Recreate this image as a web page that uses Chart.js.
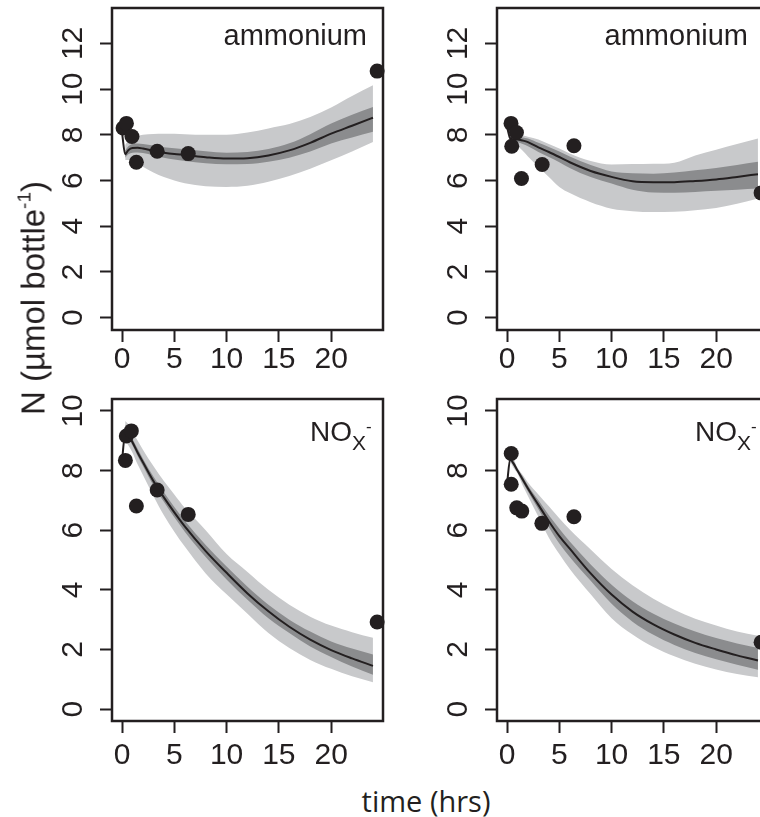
<!DOCTYPE html>
<html>
<head>
<meta charset="utf-8">
<script src="https://cdn.jsdelivr.net/npm/chart.js@4.4.0/dist/chart.umd.min.js"></script>
<style>
  html, body { margin: 0; padding: 0; background: #fff; overflow: hidden; width: 760px; height: 817px; }
  canvas { position: absolute; }
  .ytitle {
    position: absolute; left: 33px; top: 298px; white-space: nowrap;
    transform: translate(-50%, -50%) rotate(-90deg);
    font: 33px "Liberation Sans", Arial, sans-serif; color: #231f20; line-height: 1;
  }
  .ytitle sup { font-size: 19px; vertical-align: 14px; line-height: 0; }
  .xtitle {
    position: absolute; left: 426px; top: 800px; white-space: nowrap;
    transform: translate(-50%, -50%);
    font: 29px "Open Sans", sans-serif; color: #231f20; line-height: 1;
  }
</style>
</head>
<body>
<canvas id="nh4A" width="360" height="380" style="left:40px;top:0px"></canvas>
<canvas id="nh4B" width="360" height="380" style="left:425px;top:0px"></canvas>
<canvas id="noxA" width="360" height="380" style="left:40px;top:391px"></canvas>
<canvas id="noxB" width="360" height="380" style="left:425px;top:391px"></canvas>
<div class="ytitle">N (µmol bottle<sup>-1</sup>)</div>
<div class="xtitle">time (hrs)</div>
<script>
// axis ticks
const xTicks = [0, 5, 10, 15, 20]
const nh4Ticks = [0, 2, 4, 6, 8, 10, 12]
const noxTicks = [0, 2, 4, 6, 8, 10]

// model output times (hrs)
const bandTime = [0, 0.3, 0.6, 1, 1.5, 2, 3, 4, 5, 6, 8, 10, 12, 14, 16, 18, 20, 22, 24]

// ammonium, left bottle
const nh4AObsTime = [0.1, 0.42, 0.95, 1.37, 3.36, 6.33, 24.4]
const nh4AObs = [8.3, 8.5, 7.93, 6.8, 7.28, 7.18, 10.79]
const nh4AMean = [8.1, 7.15, 7.33, 7.42, 7.43, 7.4, 7.3, 7.22, 7.16, 7.12, 7.02, 6.96, 6.98, 7.1, 7.32, 7.65, 8.05, 8.4, 8.75]
const nh4AInnerLo = [null, 7.0, 7.15, 7.22, 7.23, 7.2, 7.1, 7.0, 6.92, 6.86, 6.76, 6.71, 6.72, 6.82, 7.0, 7.27, 7.62, 7.88, 8.13]
const nh4AInnerHi = [null, 7.3, 7.5, 7.6, 7.62, 7.6, 7.53, 7.46, 7.41, 7.37, 7.28, 7.22, 7.25, 7.38, 7.63, 8.03, 8.5, 8.88, 9.22]
const nh4AOuterLo = [null, 6.9, 6.9, 6.85, 6.75, 6.6, 6.35, 6.15, 6.0, 5.88, 5.75, 5.72, 5.77, 5.95, 6.2, 6.52, 6.89, 7.27, 7.69]
const nh4AOuterHi = [null, 7.55, 7.75, 7.88, 7.95, 8.0, 8.04, 8.05, 8.05, 8.03, 8.0, 8.0, 8.1, 8.28, 8.47, 8.78, 9.2, 9.7, 10.17]

// ammonium, right bottle
const nh4BObsTime = [0.38, 0.9, 0.45, 1.38, 3.36, 6.4, 24.3]
const nh4BObs = [8.5, 8.1, 7.5, 6.09, 6.7, 7.52, 5.46]
const nh4BMean = [8.35, 7.85, 7.8, 7.8, 7.75, 7.68, 7.45, 7.25, 7.03, 6.8, 6.42, 6.16, 5.97, 5.93, 5.93, 5.98, 6.05, 6.16, 6.28]
const nh4BInnerLo = [null, 7.75, 7.7, 7.68, 7.6, 7.5, 7.25, 7.03, 6.8, 6.55, 6.15, 5.87, 5.6, 5.48, 5.47, 5.5, 5.55, 5.6, 5.65]
const nh4BInnerHi = [null, 7.95, 7.9, 7.92, 7.88, 7.84, 7.65, 7.47, 7.27, 7.05, 6.68, 6.4, 6.32, 6.3, 6.35, 6.45, 6.55, 6.68, 6.82]
const nh4BOuterLo = [null, 7.7, 7.6, 7.5, 7.3, 7.05, 6.6, 6.15, 5.72, 5.45, 5.05, 4.77, 4.66, 4.62, 4.63, 4.7, 4.8, 4.98, 5.21]
const nh4BOuterHi = [null, 8.0, 8.0, 8.0, 7.97, 7.92, 7.8, 7.6, 7.4, 7.18, 6.85, 6.7, 6.72, 6.73, 6.78, 7.1, 7.35, 7.6, 7.84]

// NOx, left bottle
const noxAObsTime = [0.32, 0.41, 0.89, 1.37, 3.36, 6.33, 24.4]
const noxAObs = [8.34, 9.16, 9.33, 6.81, 7.35, 6.53, 2.92]
const noxAMean = [8.35, 9.22, 9.2, 8.95, 8.6, 8.28, 7.65, 7.1, 6.6, 6.13, 5.3, 4.57, 3.88, 3.28, 2.76, 2.33, 1.98, 1.7, 1.45]
const noxAInnerLo = [null, 9.12, 9.08, 8.84, 8.48, 8.15, 7.5, 6.95, 6.43, 5.95, 5.1, 4.35, 3.67, 3.05, 2.55, 2.1, 1.75, 1.43, 1.15]
const noxAInnerHi = [null, 9.32, 9.3, 9.06, 8.72, 8.4, 7.8, 7.27, 6.78, 6.32, 5.5, 4.78, 4.1, 3.5, 3.0, 2.6, 2.27, 2.03, 1.83]
const noxAOuterLo = [null, 9.0, 8.85, 8.6, 8.2, 7.85, 7.15, 6.5, 5.95, 5.45, 4.55, 3.85, 3.2, 2.55, 2.05, 1.65, 1.35, 1.1, 0.9]
const noxAOuterHi = [null, 9.66, 9.55, 9.3, 9.0, 8.7, 8.15, 7.65, 7.2, 6.75, 6.0, 5.2, 4.6, 4.0, 3.5, 3.1, 2.8, 2.58, 2.39]

// NOx, right bottle
const noxBObsTime = [0.4, 0.4, 0.93, 1.41, 3.33, 6.4, 24.3]
const noxBObs = [8.57, 7.54, 6.75, 6.64, 6.23, 6.45, 2.24]
const noxBMean = [7.55, 8.38, 8.25, 8.0, 7.7, 7.4, 6.85, 6.3, 5.8, 5.38, 4.55, 3.84, 3.27, 2.84, 2.5, 2.22, 2.0, 1.8, 1.63]
const noxBInnerLo = [null, 8.33, 8.18, 7.95, 7.6, 7.3, 6.7, 6.1, 5.55, 5.1, 4.3, 3.53, 2.93, 2.49, 2.15, 1.88, 1.67, 1.49, 1.32]
const noxBInnerHi = [null, 8.42, 8.32, 8.05, 7.8, 7.5, 7.0, 6.5, 6.05, 5.62, 4.85, 4.17, 3.62, 3.2, 2.87, 2.6, 2.38, 2.2, 2.05]
const noxBOuterLo = [null, 8.3, 8.1, 7.9, 7.5, 7.15, 6.45, 5.75, 5.2, 4.7, 3.85, 3.05, 2.5, 2.08, 1.77, 1.52, 1.33, 1.18, 1.07]
const noxBOuterHi = [null, 8.45, 8.4, 8.1, 7.85, 7.6, 7.2, 6.8, 6.4, 6.02, 5.35, 4.7, 4.15, 3.7, 3.33, 3.03, 2.8, 2.6, 2.46]

const ink = '#231f20'
const lightGrey = '#c8c9cb'
const darkGrey = '#8b8c8e'
const tickFont = '"Liberation Sans", Arial, sans-serif'

function pairs(xs, ys) {
  return xs.map((x, i) => ({ x: x, y: ys[i] }))
}

function band(values, color, fill, order) {
  return {
    type: 'line',
    data: pairs(bandTime, values),
    borderWidth: 0,
    pointRadius: 0,
    backgroundColor: color,
    fill: fill,
    cubicInterpolationMode: 'monotone',
    order: order
  }
}

// frame, y tick labels written along the axis, and the panel name
const panelDecor = {
  id: 'panelDecor',
  afterDraw(chart, args, opts) {
    const ctx = chart.ctx
    const a = chart.chartArea
    const y = chart.scales.y
    ctx.save()
    ctx.strokeStyle = ink
    ctx.lineWidth = 2.5
    ctx.strokeRect(a.left, a.top, a.right - a.left, a.bottom - a.top)

    ctx.fillStyle = ink
    ctx.font = '30px ' + tickFont
    ctx.textAlign = 'center'
    ctx.textBaseline = 'middle'
    y.ticks.forEach(t => {
      ctx.save()
      ctx.translate(a.left - 38, y.getPixelForValue(t.value))
      ctx.rotate(-Math.PI / 2)
      ctx.fillText(String(t.value), 0, 0)
      ctx.restore()
    })

    ctx.textBaseline = 'alphabetic'
    if (opts.label == 'ammonium') {
      ctx.font = '29px ' + tickFont
      ctx.textAlign = 'right'
      ctx.fillText('ammonium', a.right - opts.labelRight, a.top + 37)
    } else {
      ctx.textAlign = 'left'
      let x = a.right - 73
      ctx.font = '28px ' + tickFont
      ctx.fillText('NO', x, a.top + 42)
      x += ctx.measureText('NO').width
      ctx.font = '21px ' + tickFont
      ctx.fillText('X', x, a.top + 51)
      x += ctx.measureText('X').width
      ctx.font = '17px ' + tickFont
      ctx.fillText('-', x, a.top + 33)
    }
    ctx.restore()
  }
}

function makePanel(id, yMin, yMax, yTicks, obsTime, obs, mean, innerLo, innerHi, outerLo, outerHi, label, labelRight, xPad) {
  new Chart(document.getElementById(id), {
    type: 'line',
    data: {
      datasets: [
        {
          type: 'scatter',
          data: pairs(obsTime, obs),
          pointRadius: 7.5,
          pointBackgroundColor: ink,
          pointBorderWidth: 0,
          clip: false,
          order: 0
        },
        {
          type: 'line',
          data: pairs(bandTime, mean),
          borderColor: ink,
          borderWidth: 2,
          pointRadius: 0,
          fill: false,
          cubicInterpolationMode: 'monotone',
          order: 1
        },
        band(innerLo, darkGrey, false, 2),
        band(innerHi, darkGrey, '-1', 2),
        band(outerLo, lightGrey, false, 3),
        band(outerHi, lightGrey, '-1', 3)
      ]
    },
    options: {
      responsive: false,
      animation: false,
      devicePixelRatio: 1,
      events: [],
      layout: { padding: { top: 8, right: 17, left: 0, bottom: 0 } },
      plugins: {
        legend: { display: false },
        tooltip: { enabled: false },
        panelDecor: { label: label, labelRight: labelRight }
      },
      scales: {
        x: {
          type: 'linear',
          min: -0.96,
          max: 24.96,
          afterBuildTicks: s => { s.ticks = xTicks.map(v => ({ value: v })) },
          afterFit: s => { s.height = 50 },
          border: { display: false },
          grid: { drawOnChartArea: false, drawTicks: true, tickLength: 12, tickWidth: 2, tickColor: ink },
          ticks: { color: ink, font: { family: tickFont, size: 30 }, padding: xPad, maxRotation: 0 }
        },
        y: {
          type: 'linear',
          min: yMin,
          max: yMax,
          afterBuildTicks: s => { s.ticks = yTicks.map(v => ({ value: v })) },
          afterFit: s => { s.width = 72 },
          border: { display: false },
          grid: { drawOnChartArea: false, drawTicks: true, tickLength: 12, tickWidth: 2, tickColor: ink },
          ticks: { display: false }
        }
      }
    },
    plugins: [panelDecor]
  })
}

makePanel('nh4A', -0.54, 13.55, nh4Ticks, nh4AObsTime, nh4AObs, nh4AMean, nh4AInnerLo, nh4AInnerHi, nh4AOuterLo, nh4AOuterHi, 'ammonium', 16, 0)
makePanel('nh4B', -0.54, 13.55, nh4Ticks, nh4BObsTime, nh4BObs, nh4BMean, nh4BInnerLo, nh4BInnerHi, nh4BOuterLo, nh4BOuterHi, 'ammonium', 20, 0)
makePanel('noxA', -0.4, 10.4, noxTicks, noxAObsTime, noxAObs, noxAMean, noxAInnerLo, noxAInnerHi, noxAOuterLo, noxAOuterHi, 'nox', 0, 5)
makePanel('noxB', -0.4, 10.4, noxTicks, noxBObsTime, noxBObs, noxBMean, noxBInnerLo, noxBInnerHi, noxBOuterLo, noxBOuterHi, 'nox', 0, 5)
</script>
</body>
</html>
